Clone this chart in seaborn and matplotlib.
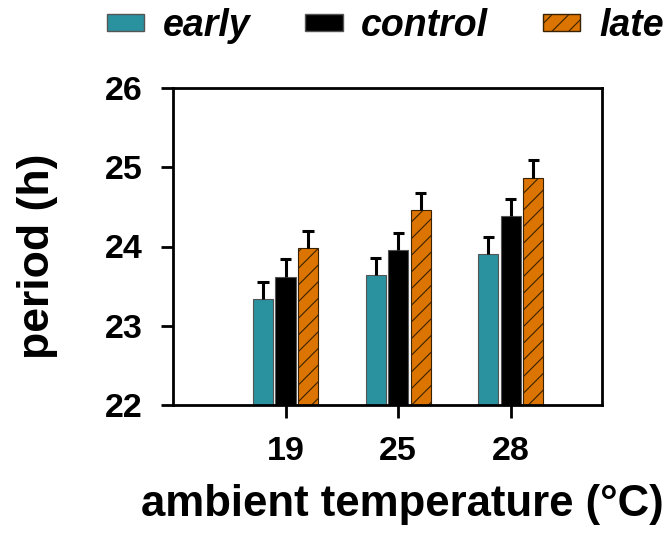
import numpy as np
import pandas as pd
import matplotlib
matplotlib.use("Agg")
import matplotlib.pyplot as plt
import seaborn as sns
from matplotlib.patches import Patch

temps = ["19", "25", "28"]
groups = ["early", "control", "late"]
early_mean = [23.34, 23.64, 23.90]
control_mean = [23.62, 23.96, 24.38]
late_mean = [23.98, 24.46, 24.86]
early_err = [0.21, 0.22, 0.22]
control_err = [0.22, 0.21, 0.22]
late_err = [0.22, 0.22, 0.23]

colors = {"early": "#2A919F", "control": "#000000", "late": "#DB7400"}
hatch_col = "#3a2200"

df = pd.DataFrame({
    "temp": temps * 3,
    "group": [g for g in groups for _ in temps],
    "period": early_mean + control_mean + late_mean,
    "err": early_err + control_err + late_err,
})

sns.set_theme(style="white")
plt.rcParams["font.family"] = ["Liberation Sans", "DejaVu Sans"]
plt.rcParams["font.weight"] = "bold"
plt.rcParams["text.color"] = "black"
plt.rcParams["hatch.linewidth"] = 0.8

fig = plt.figure(figsize=(6.71, 5.40), dpi=100)
ax = fig.add_axes([173 / 671, 1 - 405 / 540, (602 - 173) / 671, (405 - 88) / 540])

sns.barplot(data=df, x="temp", y="period", hue="group", order=temps, hue_order=groups,
            palette=colors, saturation=1, width=0.6, gap=0.1, errorbar=None, legend=False,
            ax=ax, edgecolor="#555555", linewidth=0.8)

# upward-only error bars
for cont, g in zip(ax.containers, groups):
    sub = df[df.group == g]
    xs = np.array([p.get_x() + p.get_width() / 2 for p in cont.patches])
    tops = sub["period"].values + sub["err"].values
    ax.vlines(xs, sub["period"].values, tops, colors="black", linewidth=2.2, zorder=1)
    ax.hlines(tops, xs - 0.05, xs + 0.05, colors="black", linewidth=2.2, zorder=1)
    if g == "late":
        for p in cont.patches:
            p.set_hatch("//")
            p.set_edgecolor(hatch_col)

ax.set_ylim(22, 26)
ax.set_xlim(-1.0, 2.81)
ax.set_yticks([22, 23, 24, 25, 26])
for s in ax.spines.values():
    s.set_visible(True)
    s.set_color("black")
    s.set_linewidth(2)
ax.tick_params(axis="both", direction="out", length=9, width=2, labelsize=24.5,
               color="black", labelcolor="black", left=True, bottom=True)
ax.tick_params(axis="y", pad=13)
ax.tick_params(axis="x", pad=13)
ax.set_xlabel("ambient temperature (°C)", fontsize=31.5, fontweight="bold", color="black")
ax.set_ylabel("period (h)", fontsize=32, fontweight="bold", color="black")
ax.xaxis.set_label_coords(0.534, -0.25)
ax.yaxis.set_label_coords(-0.268, 0.47)

handles = [Patch(facecolor=colors[g], edgecolor=hatch_col if g == "late" else "#555555",
                 hatch="//" if g == "late" else None)
           for g in groups]
leg = fig.legend(handles, groups, loc="center", bbox_to_anchor=(0.574, 0.952), ncol=3,
                 frameon=False, handlelength=1.0, handleheight=0.3, handletextpad=0.5,
                 columnspacing=1.45, borderpad=0,
                 prop={"size": 27, "weight": "bold", "style": "italic"})

fig.savefig("out.png", dpi=100)
